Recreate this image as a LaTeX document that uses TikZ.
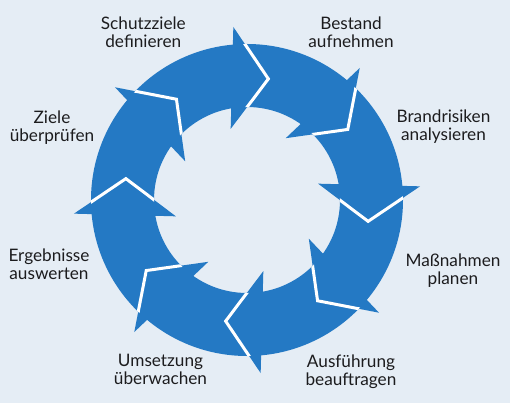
\documentclass[tikz,border=0pt]{standalone}
\usepackage{fontspec}
\setmainfont{Lato}
\usetikzlibrary{calc}
\usetikzlibrary{backgrounds}

\definecolor{bgblue}{RGB}{229,237,245}
\definecolor{ringblue}{RGB}{36,121,196}
\definecolor{labelgray}{RGB}{28,28,30}

\tikzset{
  steplabel/.style={align=center, inner sep=0pt, text=labelgray,
    font=\fontsize{17.2}{18}\selectfont},
  headline/.style={draw=white, line width=3pt, line join=miter},
}

\begin{document}
\begin{tikzpicture}[x=1pt, y=1pt]

    % Frame
    \fill[bgblue] (-247,-203) rectangle (263,200);
    \useasboundingbox (-247,-203) rectangle (263,200);

    % Ring
    \fill[ringblue, even odd rule] (0,0) circle[radius=156] (0,0) circle[radius=93];

    % Arrow heads
    \foreach \b in {97,52,7,-38,-83,-128,-173,-218}{
      \pgfmathsetmacro{\tipang}{\b-17}
      \pgfmathsetmacro{\midang}{\b-8.5}
      \coordinate (tip) at (\tipang:123);
      \coordinate (outer) at ($(\b:123)+(\midang:51)$);
      \coordinate (inner) at ($(\b:123)-(\midang:51)$);
      \fill[ringblue] (outer) -- (tip) -- (inner) -- cycle;
      \begin{scope}[even odd rule]
        \clip (0,0) circle[radius=156] (0,0) circle[radius=93];
        \draw[headline] (outer) -- (tip) -- (inner);
      \end{scope}
    }

    % Nodes
    \node[steplabel] (schutz) at (-103.7,167.6) {Schutzziele\\definieren};
    \node[steplabel] (bestand) at (104,168) {Bestand\\aufnehmen};
    \node[steplabel] (brand) at (196.5,73.2) {Brandrisiken\\analysieren};
    \node[steplabel] (massnahmen) at (206,-70.8) {Maßnahmen\\planen};
    \node[steplabel] (ausfuehrung) at (104,-171.6) {Ausführung\\beauftragen};
    \node[steplabel] (umsetzung) at (-86.5,-169.8) {Umsetzung\\überwachen};
    \node[steplabel] (ergebnisse) at (-198,-64.5) {Ergebnisse\\auswerten};
    \node[steplabel] (ziele) at (-195,72.3) {Ziele\\überprüfen};

\end{tikzpicture}
\end{document}
